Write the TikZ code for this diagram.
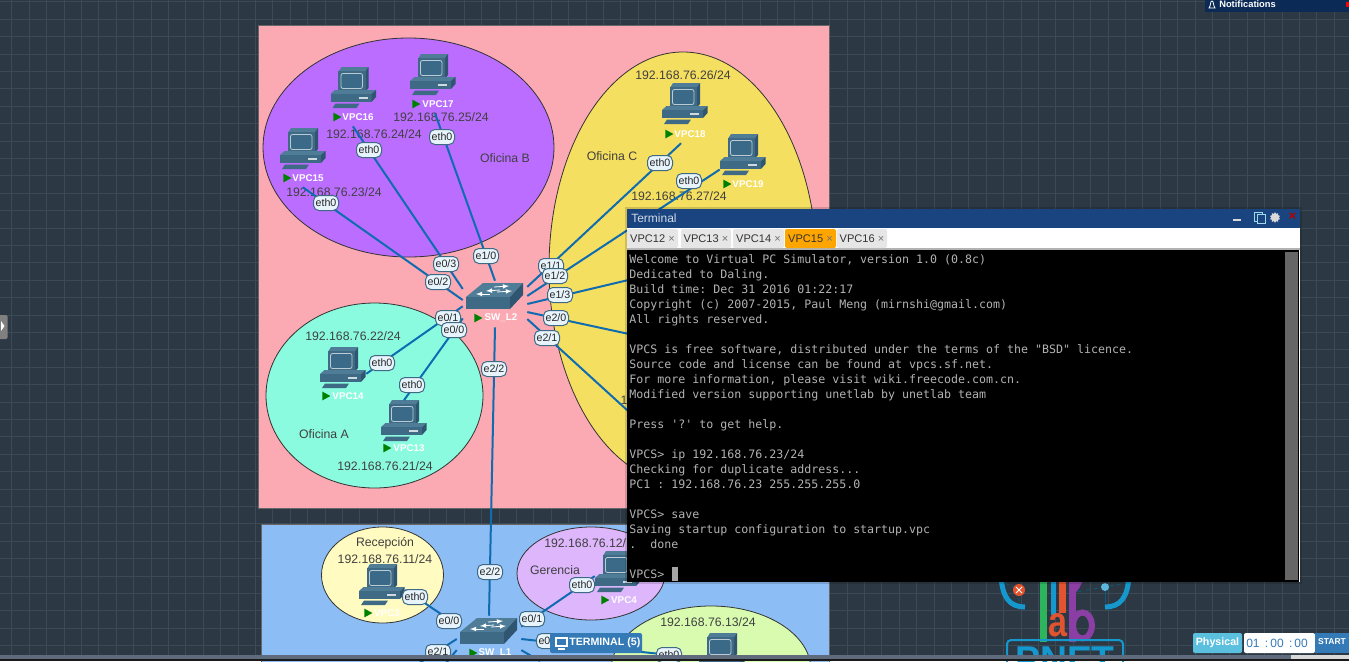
\documentclass[tikz,border=0pt]{standalone}
\usepackage{fontspec}
\setmainfont{Liberation Sans}
\setmonofont{DejaVu Sans Mono}
\usetikzlibrary{
    calc,
    shapes.geometric
}

\definecolor{gridbg}{HTML}{2C3944}
\definecolor{gridline}{HTML}{3C4A55}
\definecolor{roompink}{HTML}{FBA9B3}
\definecolor{roomblue}{HTML}{8DBDF5}
\definecolor{ofia}{HTML}{8BFBDF}
\definecolor{ofib}{HTML}{BB6DFF}
\definecolor{ofic}{HTML}{F5DF60}
\definecolor{recep}{HTML}{FFFBC1}
\definecolor{geren}{HTML}{DDB6FC}
\definecolor{lime}{HTML}{D8FBB0}
\definecolor{wire}{HTML}{0F6CB0}
\definecolor{devbody}{HTML}{3E6A85}
\definecolor{devtop}{HTML}{4F7D98}
\definecolor{devside}{HTML}{2F5570}
\definecolor{devscreen}{HTML}{3A6A88}
\definecolor{portfill}{HTML}{E8F4FC}
\definecolor{titlebar}{HTML}{1A4480}
\definecolor{tabgrey}{HTML}{E6E6E6}
\definecolor{tabactive}{HTML}{FFA500}
\definecolor{notifbar}{HTML}{0B2A55}
\definecolor{scrollbar}{HTML}{5F6A7D}
\definecolor{logoblue}{HTML}{1598CE}
\definecolor{logogreen}{HTML}{2DB45D}
\definecolor{logored}{HTML}{E2532F}
\definecolor{logopurple}{HTML}{8B3FA5}
\definecolor{btnblue}{HTML}{337AB7}
\definecolor{btncyan}{HTML}{5BC0DE}

\tikzset{
    vpcicon/.pic={
        \fill[devtop] (-14.5,-17) -- (-12,-21) -- (15,-21) -- (12,-17) -- cycle;
        \fill[devside] (12,-17) -- (15,-21) -- (15,0) -- (12,3) -- cycle;
        \fill[devbody] (-15.5,-17) rectangle (12,3);
        \draw[fill=devscreen, draw=white!65!devbody, rounded corners=1.5, line width=0.6pt] (-12.5,-14.5) rectangle (9,0.5);
        \fill[devtop] (-18.5,2) -- (22.5,2) -- (18,6) -- (-23,6) -- cycle;
        \fill[devbody] (-23,6) rectangle (18,14);
        \fill[devside] (18,6) -- (22.5,2) -- (22.5,9) -- (18,14) -- cycle;
        \draw[white!75!devbody, line width=0.8pt] (5,10) -- (14,10);
        \fill[devbody] (-18,15.5) -- (6,15.5) -- (3,20) -- (-21,20) -- cycle;
    },
    swicon/.pic={
        \fill[devtop] (-29,1) -- (-12,-13) -- (28,-13) -- (15,1) -- cycle;
        \fill[devbody] (-29,1) rectangle (15,13);
        \fill[devside] (15,1) -- (28,-13) -- (28,-1) -- (15,13) -- cycle;
        \draw[white, line width=0.6pt, -latex] (-1,-9) -- (14,-10);
        \draw[white, line width=0.6pt, latex-] (-9,-5) -- (5,-6);
        \draw[white, line width=0.6pt, -latex] (2,-4) -- (17,-5);
        \draw[white, line width=0.6pt, latex-] (-19,-2) -- (-5,-2);
    },
    iptext/.style={text=black!75, font=\fontsize{9.2}{11}\selectfont, inner sep=0pt},
    vpcbox/.style={minimum width=34.5pt, minimum height=30.75pt, inner sep=0pt},
    swbox/.style={minimum width=48pt, minimum height=34.5pt, inner sep=0pt},
    devlabel/.style={text=white, font=\bfseries\fontsize{7.35}{9}\selectfont, minimum height=13.5pt, inner sep=0pt},
    runmark/.style={isosceles triangle, isosceles triangle stretches, fill=green!50!black, minimum width=6.5pt, minimum height=6pt, inner sep=0pt},
    portlabel/.style={draw=devbody, fill=portfill, line width=0.75pt, rounded corners=4pt, minimum width=18.75pt, minimum height=11.25pt, inner sep=0pt, text=black!85, font=\fontsize{8}{9}\selectfont},
    link/.style={wire, line width=1.5pt},
    room/.style={draw=black!60, line width=0.6pt},
    blob/.style={draw=black!80, line width=0.6pt},
    vmtab/.style={fill=tabgrey, rounded corners=1.5pt, minimum height=14.25pt, inner sep=0pt, text=black!80, font=\fontsize{8.3}{10}\selectfont},
    barbtn/.style={inner sep=0pt, font=\bfseries\fontsize{8}{10}\selectfont}
}

\begin{document}
\begin{tikzpicture}[x=0.75pt, y=-0.75pt]
    \path[use as bounding box, clip] (0, 0) rectangle (1349, 661);
    \fill[gridbg] (0, 0) rectangle (1349, 661);
    \foreach \gridx in {11.7,29.1,...,1349} {
        \draw[gridline, line width=0.6pt] (\gridx, 0) -- (\gridx, 661);
    }
    \foreach \gridy in {1.8,19.2,...,661} {
        \draw[gridline, line width=0.6pt] (0, \gridy) -- (1349, \gridy);
    }

    % rooms
    \draw[room, fill=roompink] (258, 25) rectangle (829, 508);
    \draw[room, fill=roomblue] (261, 524) rectangle (829, 680);
    \draw[blob, fill=ofib] (408.5, 147.5) ellipse [x radius=145.5, y radius=109.5];
    \draw[blob, fill=ofic] (683, 268) ellipse [x radius=134, y radius=216];
    \draw[blob, fill=ofia] (374.5, 395.5) ellipse [x radius=108.5, y radius=92.5];
    \draw[blob, fill=recep] (382.5, 575) ellipse [x radius=61, y radius=48];
    \draw[blob, fill=geren] (591, 573.5) ellipse [x radius=74, y radius=46.5];
    \draw[blob, fill=lime] (711, 670) ellipse [x radius=100, y radius=64];

    % room texts
    \node[iptext] (ofiB) at (505, 158) {Oficina B};
    \node[iptext] (ofiC) at (612, 156) {Oficina C};
    \node[iptext] (ofiA) at (324, 434) {Oficina A};
    \node[iptext] (recepT) at (385, 543) {Recepción};
    \node[iptext] (gerenT) at (555, 570) {Gerencia};
    \node[iptext] (ip11) at (385, 559) {192.168.76.11/24};
    \node[iptext, anchor=west] (ip12) at (544, 543) {192.168.76.12/};
    \node[iptext] (ip13) at (708, 622) {192.168.76.13/24};
    \node[iptext] (ip21) at (385, 466) {192.168.76.21/24};
    \node[iptext] (ip22) at (353, 336) {192.168.76.22/24};
    \node[iptext] (ip23) at (334, 192) {192.168.76.23/24};
    \node[iptext] (ip24) at (374, 134) {192.168.76.24/24};
    \node[iptext] (ip25) at (441, 117) {192.168.76.25/24};
    \node[iptext] (ip26) at (683, 75) {192.168.76.26/24};
    \node[iptext] (ip27) at (679, 196) {192.168.76.27/24};
    \node[iptext] (ip28) at (624, 400) {1};

    % devices
    \pic at (303, 149) {vpcicon};
    \node[vpcbox] (vpc15) at (303, 149) {};
    \node[devlabel] (vpc15lbl) at (308, 178) {VPC15};
    \node[runmark] (run15) at (286, 178) {};
    \pic at (353.5, 88) {vpcicon};
    \node[vpcbox] (vpc16) at (353.5, 88) {};
    \node[devlabel] (vpc16lbl) at (358, 117) {VPC16};
    \node[runmark] (run16) at (336, 117) {};
    \pic at (433, 75) {vpcicon};
    \node[vpcbox] (vpc17) at (433, 75) {};
    \node[devlabel] (vpc17lbl) at (438, 104) {VPC17};
    \node[runmark] (run17) at (415, 104) {};
    \pic at (685, 104) {vpcicon};
    \node[vpcbox] (vpc18) at (685, 104) {};
    \node[devlabel] (vpc18lbl) at (690, 134) {VPC18};
    \node[runmark] (run18) at (668, 134) {};
    \pic at (743, 155) {vpcicon};
    \node[vpcbox] (vpc19) at (743, 155) {};
    \node[devlabel] (vpc19lbl) at (748, 184) {VPC19};
    \node[runmark] (run19) at (726, 184) {};
    \pic at (343, 368) {vpcicon};
    \node[vpcbox] (vpc14) at (343, 368) {};
    \node[devlabel] (vpc14lbl) at (348, 396) {VPC14};
    \node[runmark] (run14) at (325, 396) {};
    \pic at (404, 421) {vpcicon};
    \node[vpcbox] (vpc13) at (404, 421) {};
    \node[devlabel] (vpc13lbl) at (409, 448) {VPC13};
    \node[runmark] (run13) at (386, 448) {};
    \pic at (382, 585) {vpcicon};
    \node[vpcbox] (vpc3) at (382, 585) {};
    \node[devlabel] (vpc3lbl) at (387, 613) {VPC3};
    \node[runmark] (run3) at (367, 613) {};
    \pic at (618, 572) {vpcicon};
    \node[vpcbox] (vpc4) at (618, 572) {};
    \node[devlabel] (vpc4lbl) at (624, 600) {VPC4};
    \node[runmark] (run4) at (604, 600) {};
    \pic at (722, 654) {vpcicon};
    \node[vpcbox] (vpc5) at (722, 654) {};

    \pic at (495, 296) {swicon};
    \node[swbox] (swl2) at (495, 304) {};
    \node[devlabel] (swl2lbl) at (501, 318) {SW\_L2};
    \node[runmark] (runl2) at (477, 318) {};
    \pic at (489, 631) {swicon};
    \node[swbox] (swl1) at (489, 639) {};
    \node[devlabel] (swl1lbl) at (495, 653) {SW\_L1};
    \node[runmark] (runl1) at (472, 653) {};

    % free ends behind the terminal and below the page
    \coordinate (off13) at (700, 263);
    \coordinate (off20) at (680, 345);
    \coordinate (off21) at (650, 431);
    \coordinate (offa) at (540, 661);
    \coordinate (offb) at (410, 669);
    \coordinate (offc) at (446, 663);

    \draw[link]
    (vpc15lbl.241) -- (swl2.173)
    (vpc16lbl.241) -- (swl2.155)
    (vpc17lbl.252) -- (swl2.north)
    (swl2.28) -- (vpc18lbl.226)
    (swl2.14) -- (vpc19.212)
    (swl2.east) -- (off13)
    (swl2.346) -- (off20)
    (swl2.335) -- (off21)
    (vpc14.346) -- (swl2.184)
    (vpc13.north) -- (swl2.204)
    (swl2.south) -- (swl1.north)
    (vpc3.348) -- (swl1.156)
    (swl1.21) -- (vpc4.190)
    (swl1.east) -- (vpc5.190)
    (swl1.341) -- (offa)
    (swl1.west) -- (offb)
    (swl1.199) -- (offc);

    % port labels
    \node[portlabel] (eth15) at (326, 203) {eth0};
    \node[portlabel] (eth16) at (369, 150) {eth0};
    \node[portlabel] (eth17) at (442, 137) {eth0};
    \node[portlabel] (eth18) at (660, 163) {eth0};
    \node[portlabel] (eth19) at (689, 181) {eth0};
    \node[portlabel] (eth14) at (382, 363) {eth0};
    \node[portlabel] (eth13) at (412, 385) {eth0};
    \node[portlabel] (eth3) at (415, 597) {eth0};
    \node[portlabel] (eth4) at (582, 585) {eth0};
    \node[portlabel] (eth5) at (669, 655) {eth0};
    \node[portlabel] (pe03) at (446, 264) {e0/3};
    \node[portlabel] (pe02) at (438, 282) {e0/2};
    \node[portlabel] (pe10) at (486, 256) {e1/0};
    \node[portlabel] (pe11) at (551, 266) {e1/1};
    \node[portlabel] (pe12) at (555, 276) {e1/2};
    \node[portlabel] (pe13) at (560, 295) {e1/3};
    \node[portlabel] (pe01) at (448, 318) {e0/1};
    \node[portlabel] (pe00) at (454, 330) {e0/0};
    \node[portlabel] (pe20) at (556, 318) {e2/0};
    \node[portlabel] (pe21) at (547, 338) {e2/1};
    \node[portlabel] (pe22) at (494, 369) {e2/2};
    \node[portlabel] (pl22) at (490, 572) {e2/2};
    \node[portlabel] (pl00) at (449, 621) {e0/0};
    \node[portlabel] (pl01) at (532, 619) {e0/1};
    \node[portlabel] (pl21) at (438, 652) {e2/1};
    \node[portlabel, anchor=west] (pl02) at (536, 641) {\makebox[22pt][l]{\hspace{1.5pt}e0}};

    % lab logo
    \draw[logoblue, line width=3.75pt] (1001, 575) .. controls (1002, 598) and (1010, 607) .. (1025, 607);
    \draw[logoblue, line width=3.75pt] (1129, 575) .. controls (1128, 598) and (1120, 607) .. (1105, 607);
    \draw[logoblue!60!black, dashed, line width=0.6pt] (1005, 583) -- (1019, 590) -- (1019, 603);
    \draw[logoblue!60!black, dashed, line width=0.6pt] (1070, 593) -- (1105, 587) -- (1125, 583);
    \draw[logoblue!60!black, line width=0.6pt] (1105, 587) -- (1105, 603);
    \fill[logored] (1019, 590) circle [radius=6];
    \draw[white, line width=0.6pt] (1016, 587) -- (1022, 593) (1016, 593) -- (1022, 587);
    \fill[logoblue!70!white] (1105, 587) circle [radius=4];
    \fill[logogreen] (1040, 575) rectangle (1047, 642);
    \fill[logoblue] (1051, 575) rectangle (1056, 615);
    \fill[logored] (1059, 575) rectangle (1066, 613);
    \fill[logopurple] (1069, 575) rectangle (1076, 642);
    \draw[logopurple, line width=4.5pt] (1072, 592) .. controls (1076, 588) and (1078, 586) .. (1081, 576);
    \draw[logopurple, line width=4.5pt] (1082.5, 625.5) ellipse [x radius=9.5, y radius=13];
    \node[text=logored, font=\bfseries\fontsize{32}{34}\selectfont, inner sep=0pt] (logoa) at (1057.5, 625) {\scalebox{0.8}[1]{a}};
    \draw[logoblue, line width=1.5pt, rounded corners=3pt] (1007, 690) -- (1007, 640) -- (1123, 640) -- (1123, 690);
    \node[text=logoblue, font=\bfseries\fontsize{28}{30}\selectfont, inner sep=0pt] (logoname) at (1065, 660) {PNET};

    % terminal window
    \fill[black, opacity=0.15] (625, 207) rectangle (1302, 584);
    \fill[titlebar] (627, 209) rectangle (1300, 228);
    \fill[white] (627, 228) rectangle (1300, 249);
    \fill[black!30] (627, 248) rectangle (1300, 250);
    \fill[black] (627, 250) rectangle (1299, 582);
    \draw[white, line width=0.75pt] (1299.5, 250) -- (1299.5, 582);
    \fill[black!60] (1285, 252) rectangle (1298, 580);
    \node[anchor=west, inner sep=0pt, text=white!80!titlebar, font=\fontsize{9}{11}\selectfont] (termtitle) at (631, 218.5) {Terminal};
    \node[vmtab, minimum width=38.25pt] (tab12) at (652.5, 238.5) {VPC12 \textcolor{black!55}{×}};
    \node[vmtab, minimum width=37.5pt] (tab13) at (706, 238.5) {VPC13 \textcolor{black!55}{×}};
    \node[vmtab, minimum width=38.25pt] (tab14) at (758.5, 238.5) {VPC14 \textcolor{black!55}{×}};
    \node[vmtab, minimum width=38.25pt, fill=tabactive] (tab15) at (810.5, 238.5) {VPC15 \textcolor{black!55}{×}};
    \node[vmtab, minimum width=37.5pt] (tab16) at (862, 238.5) {VPC16 \textcolor{black!55}{×}};
    \draw[black!15, line width=1.1pt] (1233, 220) -- (1241, 220);
    \draw[btncyan!60!white, line width=0.6pt] (1254, 212) rectangle (1262, 221);
    \draw[btncyan!60!white, line width=0.6pt, fill=titlebar] (1257, 214) rectangle (1265, 223);
    \node[star, star points=10, star point ratio=1.4, fill=black!15, minimum size=8pt, inner sep=0pt] (gear) at (1275, 217.5) {};
    \node[text=red!70!black, inner sep=0pt, font=\bfseries\fontsize{10}{10}\selectfont] (termclose) at (1292.5, 216.5) {×};
    \node[anchor=north west, inner sep=0pt, align=left, text=black!30, font=\ttfamily\fontsize{8.72}{11.25}\selectfont] (termtext) at (629, 254) {%
        Welcome to Virtual PC Simulator, version 1.0 (0.8c)\\
        Dedicated to Daling.\\
        Build time: Dec 31 2016 01:22:17\\
        Copyright (c) 2007-2015, Paul Meng (mirnshi@gmail.com)\\
        All rights reserved.\\
        \mbox{}\\
        VPCS is free software, distributed under the terms of the "BSD" licence.\\
        Source code and license can be found at vpcs.sf.net.\\
        For more information, please visit wiki.freecode.com.cn.\\
        Modified version supporting unetlab by unetlab team\\
        \mbox{}\\
        Press '?' to get help.\\
        \mbox{}\\
        VPCS> ip 192.168.76.23/24\\
        Checking for duplicate address...\\
        PC1 : 192.168.76.23 255.255.255.0\\
        \mbox{}\\
        VPCS> save\\
        Saving startup configuration to startup.vpc\\
        .~~done\\
        \mbox{}\\
        VPCS>};
    \fill[black!35] (671.5, 567) rectangle (678, 581);

    % bars of the page
    \fill[btnblue, rounded corners=1.5pt] (550, 633) rectangle (642, 653);
    \draw[white, line width=0.9pt] (556, 638) rectangle (567, 646);
    \draw[white, line width=0.9pt] (558, 649) -- (565, 649);
    \node[anchor=west, text=white, barbtn, font=\bfseries\fontsize{8}{10}\selectfont] (termbtn) at (569, 643) {TERMINAL (5)};

    \fill[btncyan, rounded corners=1.5pt] (1193, 633) rectangle (1242, 653);
    \node[text=white, barbtn] (physical) at (1217.5, 643) {Physical};
    \fill[white, rounded corners=1.5pt] (1244, 633) rectangle (1315, 653);
    \node[text=btnblue, barbtn, font=\fontsize{9}{11}\selectfont] (timer) at (1277, 643) {01 \,:\,00 \,:\,00};
    \fill[btnblue] (1315, 633) rectangle (1349, 653);
    \node[text=white, barbtn, font=\bfseries\fontsize{6.4}{8}\selectfont] (startbtn) at (1332, 642) {START};

    \fill[scrollbar] (0, 655) rectangle (1349, 659);
    \fill[black!15] (1291, 655) rectangle (1349, 659);
    \fill[black!90] (0, 659) rectangle (1349, 661);

    \fill[notifbar] (1205, 0) rectangle (1349, 12);
    \draw[white, line width=0.6pt] (1209, 8) .. controls (1211, 6) and (1210, 1) .. (1212, 1) .. controls (1214, 1) and (1213, 6) .. (1215, 8) -- cycle;
    \node[anchor=west, text=white, inner sep=0pt, font=\bfseries\fontsize{7}{8}\selectfont] (notif) at (1219, 4) {Notifications};
    \fill[red] (1346, 2) rectangle (1349, 7);

    \fill[black!50, rounded corners=1pt] (-3, 315) rectangle (7.5, 339);
    \fill[white] (1, 321) -- (4.5, 326) -- (1, 331) -- cycle;
\end{tikzpicture}
\end{document}
